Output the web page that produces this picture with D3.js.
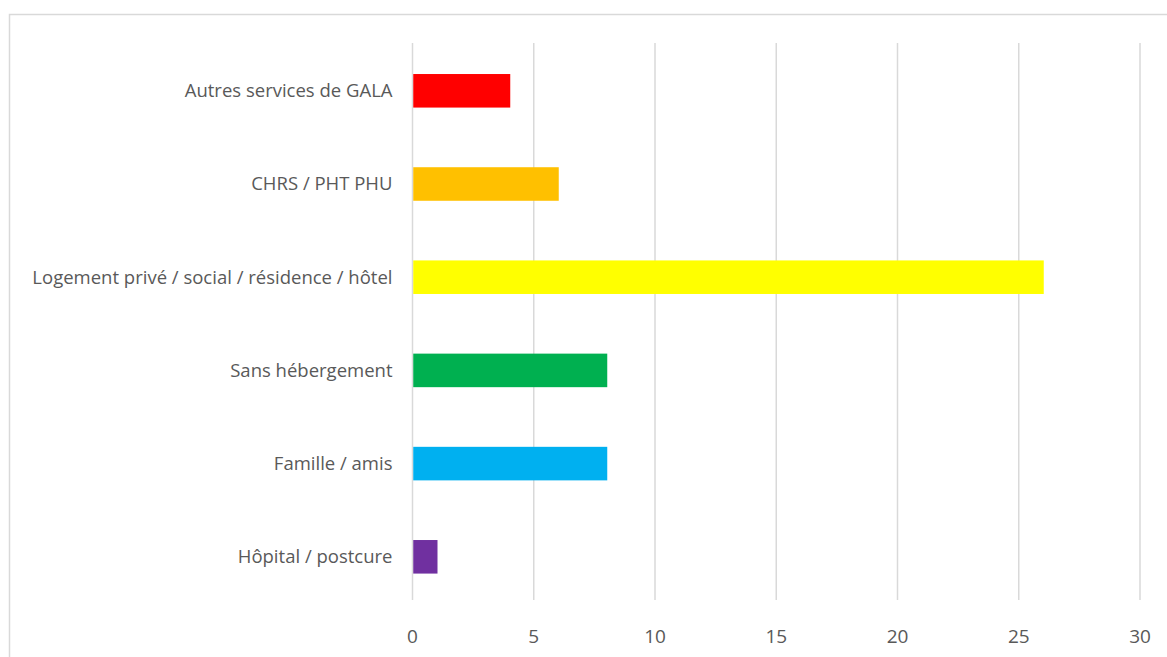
<!DOCTYPE html>
<html>
<head>
<meta charset="utf-8">
<script src="https://cdn.jsdelivr.net/npm/d3@7"></script>
<style>
  body { margin: 0; background: #fff; }
  svg text { font-family: "Open Sans", "Noto Sans", sans-serif; fill: #595959; }
</style>
</head>
<body>
<div id="chart"></div>
<script>
var categories = ['Autres services de GALA', 'CHRS / PHT PHU', 'Logement privé / social / résidence / hôtel',
  'Sans hébergement', 'Famille / amis', 'Hôpital / postcure'];
var values = [4, 6, 26, 8, 8, 1];
var colors = ['#ff0000', '#ffc000', '#ffff00', '#00b050', '#00b0f0', '#7030a0'];
var ticks = [0, 5, 10, 15, 20, 25, 30];

var svgWidth = 1167, svgHeight = 657;
var plotLeft = 412.5, plotRight = 1140, plotTop = 43, plotBottom = 600;

var svg = d3.select('#chart').append('svg').attr('width', svgWidth).attr('height', svgHeight);

// chart frame
svg.append('rect')
  .attr('x', 9.5).attr('y', 14.5)
  .attr('width', 1170).attr('height', 660)
  .attr('fill', 'none').attr('stroke', '#d9d9d9').attr('stroke-width', 1.5);

var x = d3.scaleLinear().domain([0, 30]).range([plotLeft, plotRight]);
var y = d3.scaleBand().domain(categories).range([44.2, 603.4]).paddingInner(0.64).paddingOuter(0.32);

// gridlines
svg.selectAll('line.grid')
  .data(ticks)
  .enter()
  .append('line')
  .attr('class', 'grid')
  .attr('x1', function(d) { return x(d); })
  .attr('x2', function(d) { return x(d); })
  .attr('y1', plotTop).attr('y2', plotBottom)
  .attr('stroke', '#d9d9d9').attr('stroke-width', 1.5);

// bars
svg.selectAll('rect.bar')
  .data(values)
  .enter()
  .append('rect')
  .attr('class', 'bar')
  .attr('x', x(0) + 0.75)
  .attr('y', function(d, i) { return y(categories[i]); })
  .attr('width', function(d) { return x(d) - x(0); })
  .attr('height', y.bandwidth())
  .attr('fill', function(d, i) { return colors[i]; });

// category labels
svg.selectAll('text.cat')
  .data(categories)
  .enter()
  .append('text')
  .attr('class', 'cat')
  .attr('x', plotLeft - 20)
  .attr('y', function(d) { return y(d) + y.bandwidth() / 2; })
  .attr('dy', '0.35em')
  .attr('text-anchor', 'end')
  .style('font-size', '18.5px')
  .text(function(d) { return d; });

// value axis labels
svg.selectAll('text.tick')
  .data(ticks)
  .enter()
  .append('text')
  .attr('class', 'tick')
  .attr('x', function(d) { return x(d); })
  .attr('y', 636)
  .attr('dy', '0.35em')
  .attr('text-anchor', 'middle')
  .style('font-size', '19px')
  .text(function(d) { return d; });
</script>
</body>
</html>
